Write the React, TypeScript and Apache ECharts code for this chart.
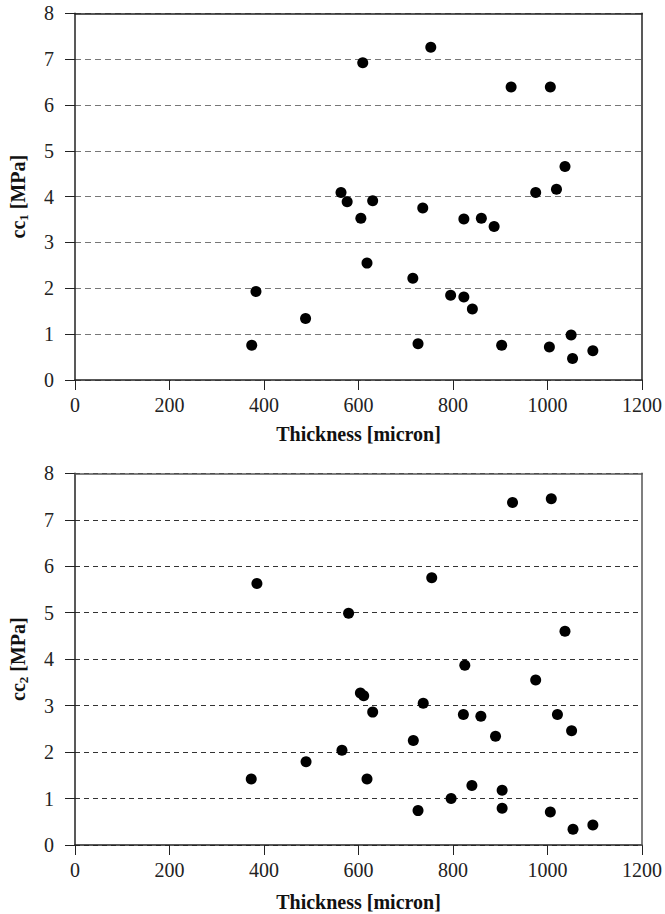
import React, { useEffect, useRef } from "react";
import * as echarts from "echarts";

// Top chart: cc1 vs thickness
const thickness1: number[] = [753, 609, 923, 1006, 1037, 563, 975, 1019, 576, 630, 736, 605, 823, 860, 887, 618, 715, 795, 823, 841, 726, 903, 1004, 1050, 1053, 1096, 383, 488, 374];
const cc1: number[] = [7.26, 6.92, 6.39, 6.39, 4.66, 4.09, 4.09, 4.16, 3.89, 3.91, 3.75, 3.53, 3.51, 3.53, 3.35, 2.55, 2.22, 1.85, 1.81, 1.55, 0.79, 0.76, 0.72, 0.98, 0.47, 0.64, 1.93, 1.34, 0.76];

// Bottom chart: cc2 vs thickness
const thickness2: number[] = [385, 926, 1008, 755, 579, 1037, 825, 975, 604, 611, 737, 630, 822, 859, 1021, 1051, 716, 890, 565, 618, 840, 904, 796, 726, 904, 1006, 1054, 1096, 373, 489];
const cc2: number[] = [5.63, 7.37, 7.45, 5.75, 4.99, 4.6, 3.87, 3.55, 3.27, 3.21, 3.05, 2.86, 2.81, 2.77, 2.81, 2.46, 2.25, 2.34, 2.04, 1.42, 1.28, 1.18, 1.0, 0.74, 0.79, 0.71, 0.34, 0.43, 1.42, 1.79];

const xTitle = "Thickness [micron]";
const yTitle1 = ["cc", "1", " [MPa]"];
const yTitle2 = ["cc", "2", " [MPa]"];

const FONT = "Liberation Serif";

export default function App() {
  const ref = useRef<HTMLDivElement>(null);
  useEffect(() => {
    if (!ref.current) return;
    const chart = echarts.init(ref.current, undefined, { renderer: "svg" });

    const rich = {
      a: { fontFamily: FONT, fontSize: 20, fontWeight: "bold", color: "#111", lineHeight: 24 },
      s: { fontFamily: FONT, fontSize: 13, fontWeight: "bold", color: "#111", verticalAlign: "bottom" },
    };

    const mkX = (gridIndex: number, nameGap: number, lineColor: string) => [
      {
        type: "value",
        gridIndex,
        min: 0,
        max: 1200,
        interval: 200,
        name: xTitle,
        nameLocation: "middle",
        nameGap,
        nameTextStyle: { fontFamily: FONT, fontSize: 20, fontWeight: "bold", color: "#111" },
        axisLine: { show: true, lineStyle: { color: "#222", width: 1.5 } },
        axisTick: { show: true, length: 10 },
        axisLabel: { fontFamily: FONT, fontSize: 20, color: "#222", margin: 15, formatter: (v: number) => String(v) },
        splitLine: { show: false },
      },
      {
        type: "value",
        gridIndex,
        position: "top",
        min: 0,
        max: 1200,
        z: 5,
        axisLine: { show: true, onZero: false, lineStyle: { color: lineColor, width: 1.5 } },
        axisTick: { show: false },
        axisLabel: { show: false },
        splitLine: { show: false },
      },
    ];

    const mkY = (gridIndex: number, title: string[], dashColor: string, dash: number[], rightColor: string) => [
      {
        type: "value",
        gridIndex,
        min: 0,
        max: 8,
        interval: 1,
        name: `{a|${title[0]}}{s|${title[1]}}{a|${title[2]}}`,
        nameLocation: "middle",
        nameGap: 45,
        nameTextStyle: { rich },
        axisLine: { show: true, lineStyle: { color: "#222", width: 1.5 } },
        axisTick: { show: true, length: 10 },
        axisLabel: { fontFamily: FONT, fontSize: 20, color: "#222", margin: 21 },
        splitLine: { show: true, lineStyle: { color: dashColor, width: 1, type: dash } },
      },
      {
        type: "value",
        gridIndex,
        position: "right",
        min: 0,
        max: 8,
        z: 5,
        axisLine: { show: true, onZero: false, lineStyle: { color: rightColor, width: 1.5 } },
        axisTick: { show: false },
        axisLabel: { show: false },
        splitLine: { show: false },
      },
    ];

    const pts = (xs: number[], ys: number[]) => xs.map((x, i) => [x, ys[i]]);

    chart.setOption({
      animation: false,
      backgroundColor: "#fff",
      grid: [
        { left: 71, top: 13.3, width: 571, height: 366.7 },
        { left: 71, top: 473.3, width: 575.5, height: 371.7 },
      ],
      xAxis: [...mkX(0, 44, "#222"), ...mkX(1, 47, "#555")],
      yAxis: [...mkY(0, yTitle1, "#777", [6, 4], "#222"), ...mkY(1, yTitle2, "#333", [5, 4], "#555")],
      series: [
        {
          type: "scatter",
          xAxisIndex: 0,
          yAxisIndex: 0,
          data: pts(thickness1, cc1),
          symbol: "circle",
          symbolSize: 11,
          itemStyle: { color: "#000", opacity: 1 },
          z: 10,
        },
        {
          type: "scatter",
          xAxisIndex: 2,
          yAxisIndex: 2,
          data: pts(thickness2, cc2),
          symbol: "circle",
          symbolSize: 11,
          itemStyle: { color: "#000", opacity: 1 },
          z: 10,
        },
      ],
    });
    return () => chart.dispose();
  }, []);

  return (
    <div
      ref={ref}
      style={{ position: "fixed", left: 0, top: 0, width: 665, height: 914, background: "#fff" }}
    />
  );
}
